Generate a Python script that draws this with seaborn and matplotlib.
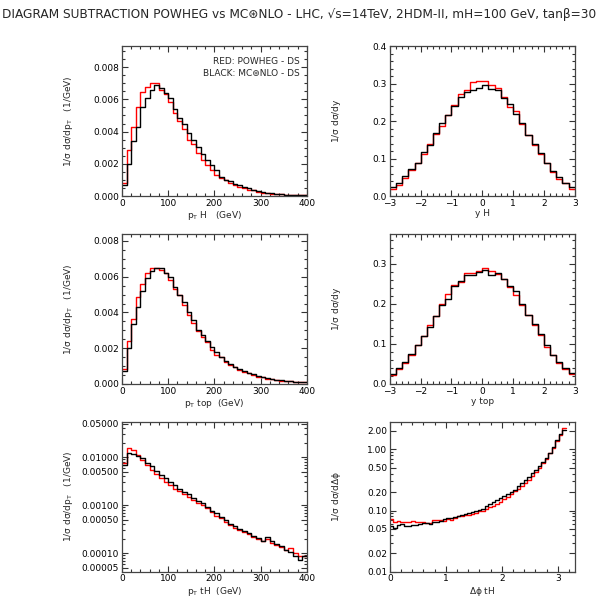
import numpy as np
import pandas as pd
import matplotlib
matplotlib.use('Agg')
import matplotlib.pyplot as plt
import seaborn as sns
from matplotlib.ticker import AutoMinorLocator, FixedLocator, FormatStrFormatter, NullFormatter

# %% Dados
pt_edges = np.arange(0, 410, 10)
y_edges = np.round(np.arange(-3.0, 3.01, 0.2), 2)
dphi_edges = np.linspace(0, np.pi, 51)

ptH_red = [0.00083, 0.00285, 0.00428, 0.0055, 0.00647, 0.00678, 0.00702, 0.00702, 0.00655, 0.0063,
           0.00583, 0.00517, 0.00465, 0.00413, 0.0035, 0.0032, 0.00269, 0.00227, 0.00196, 0.00165,
           0.00134, 0.00114, 0.00099, 0.00083, 0.00072, 0.00058, 0.00052, 0.00041, 0.00035, 0.00027,
           0.00022, 0.00018, 0.00015, 0.00013, 0.00011, 0.00009, 0.00008, 0.00007, 0.00006, 0.00005]
ptH_black = [0.00066, 0.0020, 0.0034, 0.0043, 0.0055, 0.0061, 0.0066, 0.00686, 0.00667, 0.0064,
             0.0061, 0.00537, 0.00486, 0.00444, 0.00393, 0.00345, 0.00304, 0.00262, 0.00227, 0.00192,
             0.00165, 0.0012, 0.00103, 0.00093, 0.00076, 0.00066, 0.00056, 0.00048, 0.00037, 0.00031,
             0.00025, 0.00021, 0.00017, 0.00014, 0.00012, 0.0001, 0.00008, 0.00007, 0.00006, 0.00005]

yH_red = [0.020, 0.029, 0.049, 0.069, 0.087, 0.113, 0.140, 0.166, 0.187, 0.216,
          0.244, 0.273, 0.283, 0.304, 0.307, 0.308, 0.297, 0.288, 0.265, 0.237,
          0.227, 0.193, 0.162, 0.136, 0.113, 0.089, 0.064, 0.046, 0.034, 0.020]
yH_black = [0.024, 0.036, 0.053, 0.073, 0.089, 0.117, 0.135, 0.167, 0.196, 0.216,
            0.240, 0.265, 0.277, 0.284, 0.287, 0.295, 0.286, 0.282, 0.262, 0.245,
            0.220, 0.194, 0.163, 0.138, 0.116, 0.089, 0.067, 0.051, 0.036, 0.024]

pttop_red = [0.00084, 0.0024, 0.00365, 0.00485, 0.0056, 0.0062, 0.00646, 0.0065, 0.00637, 0.0062,
             0.00584, 0.0053, 0.005, 0.00444, 0.00388, 0.0034, 0.00294, 0.0026, 0.00234, 0.0019,
             0.0016, 0.00148, 0.00122, 0.00107, 0.00092, 0.00079, 0.00069, 0.0006, 0.0005, 0.00041,
             0.00036, 0.0003, 0.00026, 0.00022, 0.00019, 0.00016, 0.00014, 0.00012, 0.0001, 0.00009]
pttop_black = [0.0007, 0.0020, 0.00335, 0.0043, 0.0052, 0.0059, 0.0063, 0.00646, 0.0065, 0.0062,
               0.006, 0.00543, 0.005, 0.00457, 0.00403, 0.0036, 0.00303, 0.00275, 0.00238, 0.00206,
               0.00176, 0.00148, 0.00131, 0.00112, 0.00094, 0.00082, 0.00073, 0.00062, 0.00054, 0.00047,
               0.0004, 0.00033, 0.00028, 0.00024, 0.0002, 0.00017, 0.00015, 0.00012, 0.0001, 0.00009]

ytop_red = [0.0225, 0.0375, 0.053, 0.0725, 0.0975, 0.120, 0.146, 0.170, 0.200, 0.224,
            0.2475, 0.254, 0.277, 0.277, 0.2825, 0.289, 0.281, 0.275, 0.262, 0.241,
            0.2225, 0.1975, 0.171, 0.146, 0.1225, 0.093, 0.0725, 0.053, 0.0375, 0.024]
ytop_black = [0.025, 0.041, 0.056, 0.074, 0.096, 0.120, 0.141, 0.170, 0.1975, 0.2125,
              0.244, 0.256, 0.271, 0.2725, 0.279, 0.285, 0.271, 0.276, 0.2625, 0.245,
              0.231, 0.199, 0.1725, 0.149, 0.124, 0.0975, 0.0725, 0.056, 0.039, 0.0265]

pttH_red = [0.0075, 0.0158, 0.0142, 0.0112, 0.0088, 0.0067, 0.0055, 0.0045, 0.0037, 0.0030,
            0.0026, 0.0022, 0.0020, 0.0017, 0.0015, 0.0013, 0.0011, 0.0010, 0.00086, 0.00072,
            0.00060, 0.00054, 0.00044, 0.00039, 0.00034, 0.00030, 0.00028, 0.00025, 0.00022, 0.00020,
            0.000177, 0.00020, 0.000162, 0.00015, 0.000133, 0.000114, 0.000128, 0.00010, 0.000089, 0.000086]
pttH_black = [0.0069, 0.0121, 0.0117, 0.0107, 0.0095, 0.0075, 0.0064, 0.0052, 0.0043, 0.0037,
              0.0030, 0.0026, 0.0022, 0.0019, 0.0017, 0.0014, 0.0012, 0.0011, 0.00091, 0.00076,
              0.00068, 0.00057, 0.00049, 0.00041, 0.00037, 0.00032, 0.00029, 0.00026, 0.00023, 0.00021,
              0.000183, 0.00022, 0.000177, 0.000155, 0.000143, 0.000118, 0.000103, 0.000088, 0.000071, 0.000085]

dphi_red = [0.072, 0.065, 0.068, 0.066, 0.065, 0.066, 0.068, 0.066, 0.065, 0.064,
            0.063, 0.063, 0.070, 0.071, 0.069, 0.068, 0.074, 0.071, 0.076, 0.080,
            0.081, 0.085, 0.086, 0.089, 0.092, 0.097, 0.100, 0.108, 0.114, 0.120,
            0.130, 0.140, 0.152, 0.168, 0.185, 0.205, 0.225, 0.250, 0.280, 0.320,
            0.370, 0.430, 0.500, 0.590, 0.700, 0.860, 1.05, 1.35, 1.75, 2.20]
dphi_black = [0.055, 0.052, 0.058, 0.060, 0.056, 0.055, 0.057, 0.058, 0.061, 0.062,
              0.062, 0.061, 0.064, 0.066, 0.067, 0.072, 0.075, 0.076, 0.078, 0.082,
              0.085, 0.087, 0.092, 0.096, 0.100, 0.103, 0.106, 0.120, 0.126, 0.138,
              0.148, 0.158, 0.170, 0.185, 0.200, 0.220, 0.250, 0.280, 0.320, 0.360,
              0.410, 0.460, 0.530, 0.620, 0.730, 0.880, 1.08, 1.40, 1.80, 2.05]

titulo = ('DIAGRAM SUBTRACTION POWHEG vs MC\u229bNLO - LHC, \u221as=14TeV, '
          '2HDM-II, mH=100 GeV, tan\u03b2=30')

ylab_pt = r'1/$\sigma$ d$\sigma$/dp$_{\mathrm{T}}$   (1/GeV)'
ylab_y = r'1/$\sigma$ d$\sigma$/dy'
ylab_phi = r'1/$\sigma$ d$\sigma$/d$\Delta\phi$'

# %% Estilo
sns.set_theme(style='ticks')
plt.rcParams['font.family'] = ['DejaVu Sans']
plt.rcParams['mathtext.fontset'] = 'dejavusans'
plt.rcParams['mathtext.default'] = 'regular'

fig = plt.figure(figsize=(5.98, 5.98), dpi=100)

esq = [0.204, 0.652]
larg = 0.309
linhas = [0.672, 0.358, 0.044]
alt = 0.251


def painel(ax, edges, red, black, xlabel, ylabel):
    centros = (edges[:-1] + edges[1:]) / 2
    df = pd.DataFrame({'x': centros, 'red': red, 'black': black})
    sns.histplot(data=df, x='x', weights='red', bins=list(edges), element='step', fill=False,
                 color='#ff0000', linewidth=1.0, ax=ax)
    sns.histplot(data=df, x='x', weights='black', bins=list(edges), element='step', fill=False,
                 color='#000000', linewidth=1.0, ax=ax)
    ax.set_xlabel(xlabel, fontsize=6.5, labelpad=1)
    ax.set_ylabel(ylabel, fontsize=6.5)
    ax.yaxis.set_label_coords(-0.255, 0.5)
    ax.tick_params(which='both', direction='in', top=True, right=True,
                   labelsize=6.5, width=0.8, colors='#333333', labelcolor='black', pad=2)
    ax.tick_params(which='major', length=4)
    ax.tick_params(which='minor', length=2)
    for s in ax.spines.values():
        s.set_color('#444444')
        s.set_linewidth(0.9)


# pT H
ax1 = fig.add_axes([esq[0], linhas[0], larg, alt])
painel(ax1, pt_edges, ptH_red, ptH_black, r'p$_{\mathrm{T}}$ H   (GeV)', ylab_pt)
ax1.set_xlim(0, 400)
ax1.set_ylim(0, 0.0093)
ax1.set_yticks([0, 0.002, 0.004, 0.006, 0.008])
ax1.yaxis.set_major_formatter(FormatStrFormatter('%.3f'))
ax1.xaxis.set_minor_locator(AutoMinorLocator(5))
ax1.yaxis.set_minor_locator(AutoMinorLocator(4))
ax1.text(0.96, 0.88, 'RED: POWHEG - DS', transform=ax1.transAxes, ha='right', fontsize=6.5)
ax1.text(0.96, 0.80, 'BLACK: MC\u229bNLO - DS', transform=ax1.transAxes, ha='right', fontsize=6.5)

# y H
ax2 = fig.add_axes([esq[1], linhas[0], larg, alt])
painel(ax2, y_edges, yH_red, yH_black, 'y H', ylab_y)
ax2.set_xlim(-3, 3)
ax2.set_ylim(0, 0.4)
ax2.set_yticks([0, 0.1, 0.2, 0.3, 0.4])
ax2.yaxis.set_major_formatter(FormatStrFormatter('%.1f'))
ax2.set_xticks([-3, -2, -1, 0, 1, 2, 3])
ax2.xaxis.set_minor_locator(AutoMinorLocator(5))
ax2.yaxis.set_minor_locator(AutoMinorLocator(5))

# pT top
ax3 = fig.add_axes([esq[0], linhas[1], larg, alt])
painel(ax3, pt_edges, pttop_red, pttop_black, r'p$_{\mathrm{T}}$ top  (GeV)', ylab_pt)
ax3.set_xlim(0, 400)
ax3.set_ylim(0, 0.0084)
ax3.set_yticks([0, 0.002, 0.004, 0.006, 0.008])
ax3.yaxis.set_major_formatter(FormatStrFormatter('%.3f'))
ax3.xaxis.set_minor_locator(AutoMinorLocator(5))
ax3.yaxis.set_minor_locator(AutoMinorLocator(4))

# y top
ax4 = fig.add_axes([esq[1], linhas[1], larg, alt])
painel(ax4, y_edges, ytop_red, ytop_black, 'y top', ylab_y)
ax4.set_xlim(-3, 3)
ax4.set_ylim(0, 0.375)
ax4.set_yticks([0, 0.1, 0.2, 0.3])
ax4.yaxis.set_major_formatter(FormatStrFormatter('%.1f'))
ax4.set_xticks([-3, -2, -1, 0, 1, 2, 3])
ax4.xaxis.set_minor_locator(AutoMinorLocator(5))
ax4.yaxis.set_minor_locator(AutoMinorLocator(5))

# pT tH (log)
ax5 = fig.add_axes([esq[0], linhas[2], larg, alt])
painel(ax5, pt_edges, pttH_red, pttH_black, r'p$_{\mathrm{T}}$ tH  (GeV)', ylab_pt)
ax5.set_yscale('log')
ax5.set_xlim(0, 400)
ax5.set_ylim(4.1e-5, 0.055)
ax5.yaxis.set_major_locator(FixedLocator([0.00005, 0.0001, 0.0005, 0.001, 0.005, 0.01, 0.05]))
ax5.yaxis.set_major_formatter(FormatStrFormatter('%.5f'))
ax5.yaxis.set_minor_formatter(NullFormatter())
ax5.xaxis.set_minor_locator(AutoMinorLocator(5))

# delta phi (log)
ax6 = fig.add_axes([esq[1], linhas[2], larg, alt])
painel(ax6, dphi_edges, dphi_red, dphi_black, r'$\Delta\phi$ tH', ylab_phi)
ax6.set_yscale('log')
ax6.set_xlim(0, 3.3)
ax6.set_ylim(0.01, 2.85)
ax6.set_xticks([0, 1, 2, 3])
ax6.yaxis.set_major_locator(FixedLocator([0.01, 0.02, 0.05, 0.1, 0.2, 0.5, 1, 2]))
ax6.yaxis.set_major_formatter(FormatStrFormatter('%.2f'))
ax6.yaxis.set_minor_formatter(NullFormatter())
ax6.xaxis.set_minor_locator(AutoMinorLocator(5))

fig.text(0.003, 0.987, titulo, fontsize=8.7, ha='left', va='top')

fig.savefig('out.png', dpi=100)
